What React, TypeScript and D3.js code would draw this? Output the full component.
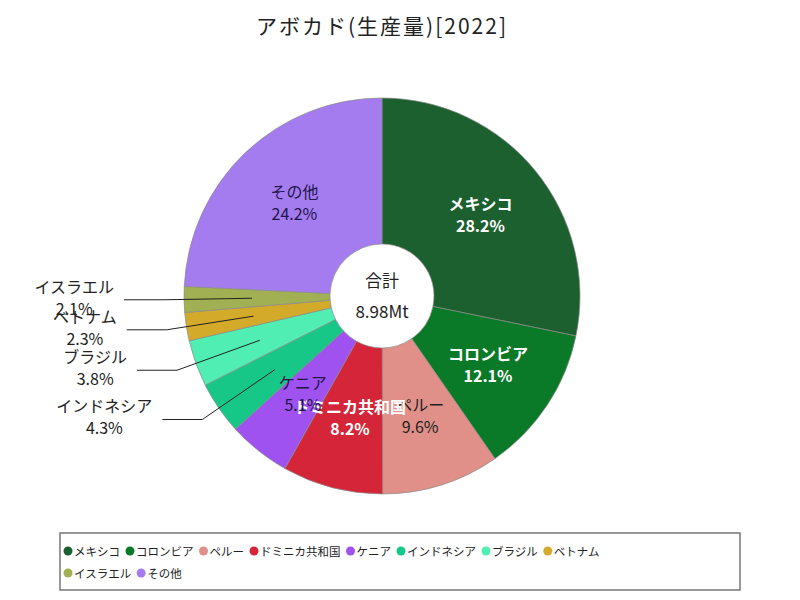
import React, { useEffect, useRef } from "react";
import * as d3 from "d3";

const categories = ["メキシコ", "コロンビア", "ペルー", "ドミニカ共和国", "ケニア", "インドネシア", "ブラジル", "ベトナム", "イスラエル", "その他"];
const shares = [28.2, 12.1, 9.6, 8.2, 5.1, 4.3, 3.8, 2.3, 2.1, 24.2];
const colors = ["#1d6030", "#0a7a28", "#e09088", "#d42638", "#a052f0", "#16c788", "#50eeb2", "#d4aa2a", "#a2b054", "#a57cf0"];
const labelColors = ["#ffffff", "#ffffff", "#222222", "#ffffff", "#20164a", "#222", "#222", "#222", "#222", "#20164a"];
const title = "アボカド(生産量)[2022]";
const totalLabel = "合計";
const totalValue = "8.98Mt";

const W = 800, H = 600;
const CX = 382, CY = 296, R = 198, R0 = 52;
const FONT = "'Noto Sans CJK JP', 'Noto Sans', sans-serif";

export default function App() {
  const ref = useRef<SVGSVGElement>(null);
  useEffect(() => {
    const svg = d3.select(ref.current);
    svg.selectAll("*").remove();

    svg.append("text").attr("x", 382).attr("y", 34).attr("text-anchor", "middle")
      .attr("font-family", FONT).attr("font-size", 21).attr("letter-spacing", 2).attr("fill", "#222").text(title);

    const data = categories.map((c, i) => ({ name: c, value: shares[i], i }));
    const pie = d3.pie<any>().value((d) => d.value).sort(null).startAngle(0).endAngle(2 * Math.PI);
    const arcs = pie(data);
    const arc = d3.arc<any>().innerRadius(R0).outerRadius(R);
    const g = svg.append("g").attr("transform", `translate(${CX},${CY})`);
    g.selectAll("path").data(arcs).join("path").attr("d", arc as any)
      .attr("fill", (d: any) => colors[d.data.i]).attr("stroke", "#8a8a8a").attr("stroke-width", 0.7);

    const pt = (a: number, r: number) => [r * Math.sin(a), -r * Math.cos(a)];

    arcs.forEach((d: any) => {
      const mid = (d.startAngle + d.endAngle) / 2;
      const pct = d.data.value.toFixed(1) + "%";
      if (d.data.value >= 5) {
        const [x, y] = pt(mid, 127);
        const t = g.append("g").attr("font-family", FONT).attr("font-size", 16).attr("text-anchor", "middle")
          .attr("fill", labelColors[d.data.i]).attr("font-weight", labelColors[d.data.i] === "#ffffff" ? "bold" : "normal");
        t.append("text").attr("x", x).attr("y", y - 6).text(d.data.name);
        t.append("text").attr("x", x).attr("y", y + 16).text(pct);
      } else {
        const [x1, y1] = pt(mid, 130);
        const [x2, y2] = pt(mid, 218);
        const x3 = x2 - 40;
        g.append("polyline").attr("points", `${x1},${y1} ${x2},${y2} ${x3},${y2}`)
          .attr("fill", "none").attr("stroke", "#222").attr("stroke-width", 1);
        const t = g.append("g").attr("font-family", FONT).attr("font-size", 16).attr("text-anchor", "middle").attr("fill", "#222");
        const a = t.append("text").attr("y", y2 - 7).text(d.data.name);
        const b = t.append("text").attr("y", y2 + 15).text(pct);
        const w = Math.max((a.node() as any).getComputedTextLength(), (b.node() as any).getComputedTextLength());
        const cx = x3 - 10 - w / 2;
        a.attr("x", cx); b.attr("x", cx);
      }
    });

    g.append("text").attr("y", -9).attr("text-anchor", "middle").attr("font-family", FONT).attr("font-size", 17).attr("fill", "#222").text(totalLabel);
    g.append("text").attr("y", 22).attr("text-anchor", "middle").attr("font-family", FONT).attr("font-size", 17).attr("fill", "#222").text(totalValue);

    // legend
    svg.append("rect").attr("x", 60).attr("y", 533).attr("width", 680).attr("height", 57)
      .attr("fill", "#fff").attr("stroke", "#777").attr("stroke-width", 1.5);
    let lx = 68, row = 0;
    data.forEach((d, k) => {
      if (k === 8) { row = 1; lx = 68; }
      const y = 551 + row * 22;
      svg.append("circle").attr("cx", lx).attr("cy", y).attr("r", 4.5).attr("fill", colors[d.i]);
      const t = svg.append("text").attr("x", lx + 6).attr("y", y + 4.5).attr("font-family", FONT).attr("font-size", 11.5).attr("fill", "#222").text(d.name);
      lx += 6 + (t.node() as any).getComputedTextLength() + 10;
    });
  }, []);
  return (
    <svg ref={ref} width={W} height={H} style={{ position: "absolute", left: 0, top: 0, background: "#fff" }} />
  );
}
